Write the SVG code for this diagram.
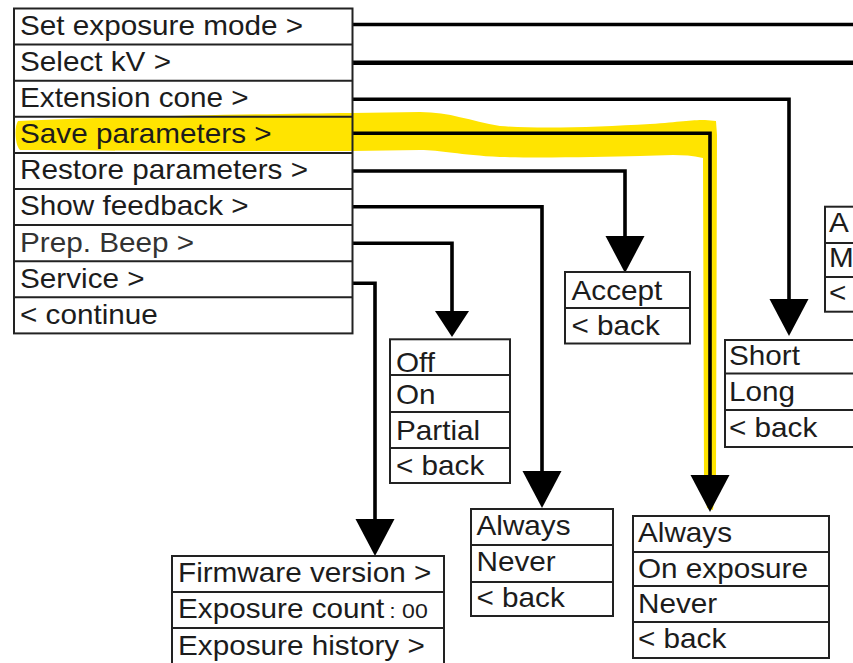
<svg xmlns="http://www.w3.org/2000/svg" width="853" height="663" viewBox="0 0 853 663">
<style>
.box{fill:none;stroke:#222;stroke-width:2}
.sep{stroke:#222;stroke-width:2}
.t{font-family:"Liberation Sans",Arial,sans-serif;font-size:27px;fill:#1c1c1c}
.conn{fill:none;stroke:#000;stroke-width:3.6;stroke-linejoin:miter}
</style>
<defs>
<marker id="ah" markerUnits="userSpaceOnUse" markerWidth="37" markerHeight="39" refX="0" refY="19.5" orient="auto" overflow="visible">
<path d="M0,0 L37,19.5 L0,39 Z" fill="#000"/>
</marker>
<marker id="ahs" markerUnits="userSpaceOnUse" markerWidth="26" markerHeight="34" refX="0" refY="17" orient="auto" overflow="visible">
<path d="M0,0 L26,17 L0,34 Z" fill="#000"/>
</marker>
</defs>
<rect x="0" y="0" width="853" height="663" fill="#fff"/>
<path id="highlight" fill="#FFE400" d="M18,121 C100,117 250,114 352,113 L420,112 C450,112 470,121 500,126 C540,129 600,127 650,124 C680,122 690,120 705,120 L716,121 L717,135 L716,480 L713,510 L707,508 L704,480 L703,158 C680,153 660,156 640,156 C600,157 540,158 500,157 C460,155 440,150 420,150 L352,151 C250,151 100,151 20,150 C15,145 14,127 18,121 Z"/>
<g id="connectors">
<path class="conn" d="M352,24.5 H860"/>
<path class="conn" style="stroke-width:4.5" d="M352,62.7 H860"/>
<path class="conn" d="M352,99.3 H789 V299" marker-end="url(#ah)"/>
<path class="conn" d="M352,133.3 H710 V475" marker-end="url(#ah)"/>
<path class="conn" d="M352,171 H625 V236" marker-end="url(#ah)"/>
<path class="conn" d="M352,206.7 H542 V471" marker-end="url(#ah)"/>
<path class="conn" d="M352,243.3 H452 V311" marker-end="url(#ahs)"/>
<path class="conn" d="M352,283.3 H375 V519" marker-end="url(#ah)"/>
</g>
<g id="main-menu">
<rect class="box" x="14" y="8.5" width="338.5" height="324.9"/>
<path class="sep" d="M14,44.6H352.5M14,80.7H352.5M14,116.8H352.5M14,152.9H352.5M14,189H352.5M14,225.1H352.5M14,261.2H352.5M14,297.3H352.5"/>
<text class="t" transform="translate(20,35) scale(1.1,1)">Set exposure mode &gt;</text>
<text class="t" transform="translate(20,70.5) scale(1.1,1)">Select kV &gt;</text>
<text class="t" transform="translate(20,107) scale(1.1,1)">Extension cone &gt;</text>
<text class="t" transform="translate(20,143) scale(1.1,1)">Save parameters &gt;</text>
<text class="t" transform="translate(20,179) scale(1.1,1)">Restore parameters &gt;</text>
<text class="t" transform="translate(20,215) scale(1.1,1)">Show feedback &gt;</text>
<text class="t" style="fill:#333" transform="translate(20,251.5) scale(1.1,1)">Prep. Beep &gt;</text>
<text class="t" transform="translate(20,288) scale(1.1,1)">Service &gt;</text>
<text class="t" transform="translate(20,324) scale(1.1,1)">&lt; continue</text>
</g>
<g id="exposure-mode-menu">
<rect class="box" x="825" y="206.7" width="60" height="105"/>
<path class="sep" d="M825,243H860M825,277H860"/>
<text class="t" transform="translate(829,232) scale(1.1,1)">A</text>
<text class="t" transform="translate(829,267) scale(1.1,1)">M</text>
<text class="t" transform="translate(829,302) scale(1.1,1)">&lt;</text>
</g>
<g id="restore-menu">
<rect class="box" x="565" y="272" width="125" height="71.5"/>
<path class="sep" d="M565,308H690"/>
<text class="t" transform="translate(571.5,300) scale(1.1,1)">Accept</text>
<text class="t" transform="translate(571.5,335) scale(1.1,1)">&lt; back</text>
</g>
<g id="cone-menu">
<rect class="box" x="725" y="340" width="150" height="107"/>
<path class="sep" d="M725,373.5H860M725,410H860"/>
<text class="t" transform="translate(729,365) scale(1.1,1)">Short</text>
<text class="t" transform="translate(729,401) scale(1.1,1)">Long</text>
<text class="t" transform="translate(729,437) scale(1.1,1)">&lt; back</text>
</g>
<g id="beep-menu">
<rect class="box" x="390" y="339.3" width="120" height="143.7"/>
<path class="sep" d="M390,375H510M390,412H510M390,448H510"/>
<text class="t" transform="translate(396,372) scale(1.1,1)">Off</text>
<text class="t" transform="translate(396,404) scale(1.1,1)">On</text>
<text class="t" transform="translate(396,440) scale(1.1,1)">Partial</text>
<text class="t" transform="translate(396,475) scale(1.1,1)">&lt; back</text>
</g>
<g id="feedback-menu">
<rect class="box" x="471" y="509" width="142" height="107"/>
<path class="sep" d="M471,545H613M471,582H613"/>
<text class="t" transform="translate(476.5,534.5) scale(1.1,1)">Always</text>
<text class="t" transform="translate(476.5,570.5) scale(1.1,1)">Never</text>
<text class="t" transform="translate(476.5,607) scale(1.1,1)">&lt; back</text>
</g>
<g id="save-menu">
<rect class="box" x="633" y="516" width="196" height="142"/>
<path class="sep" d="M633,552H829M633,586H829M633,622H829"/>
<text class="t" transform="translate(638,542) scale(1.1,1)">Always</text>
<text class="t" transform="translate(638,578) scale(1.1,1)">On exposure</text>
<text class="t" transform="translate(638,613) scale(1.1,1)">Never</text>
<text class="t" transform="translate(638,648) scale(1.1,1)">&lt; back</text>
</g>
<g id="service-menu">
<rect class="box" x="172" y="556" width="272" height="115"/>
<path class="sep" d="M172,592H444M172,628H444"/>
<text class="t" transform="translate(178,582) scale(1.1,1)">Firmware version &gt;</text>
<text class="t" transform="translate(178,618) scale(1.1,1)">Exposure count <tspan dx="-3" style="font-size:21px">: 00</tspan></text>
<text class="t" transform="translate(178,655) scale(1.1,1)">Exposure history &gt;</text>
</g>
</svg>
